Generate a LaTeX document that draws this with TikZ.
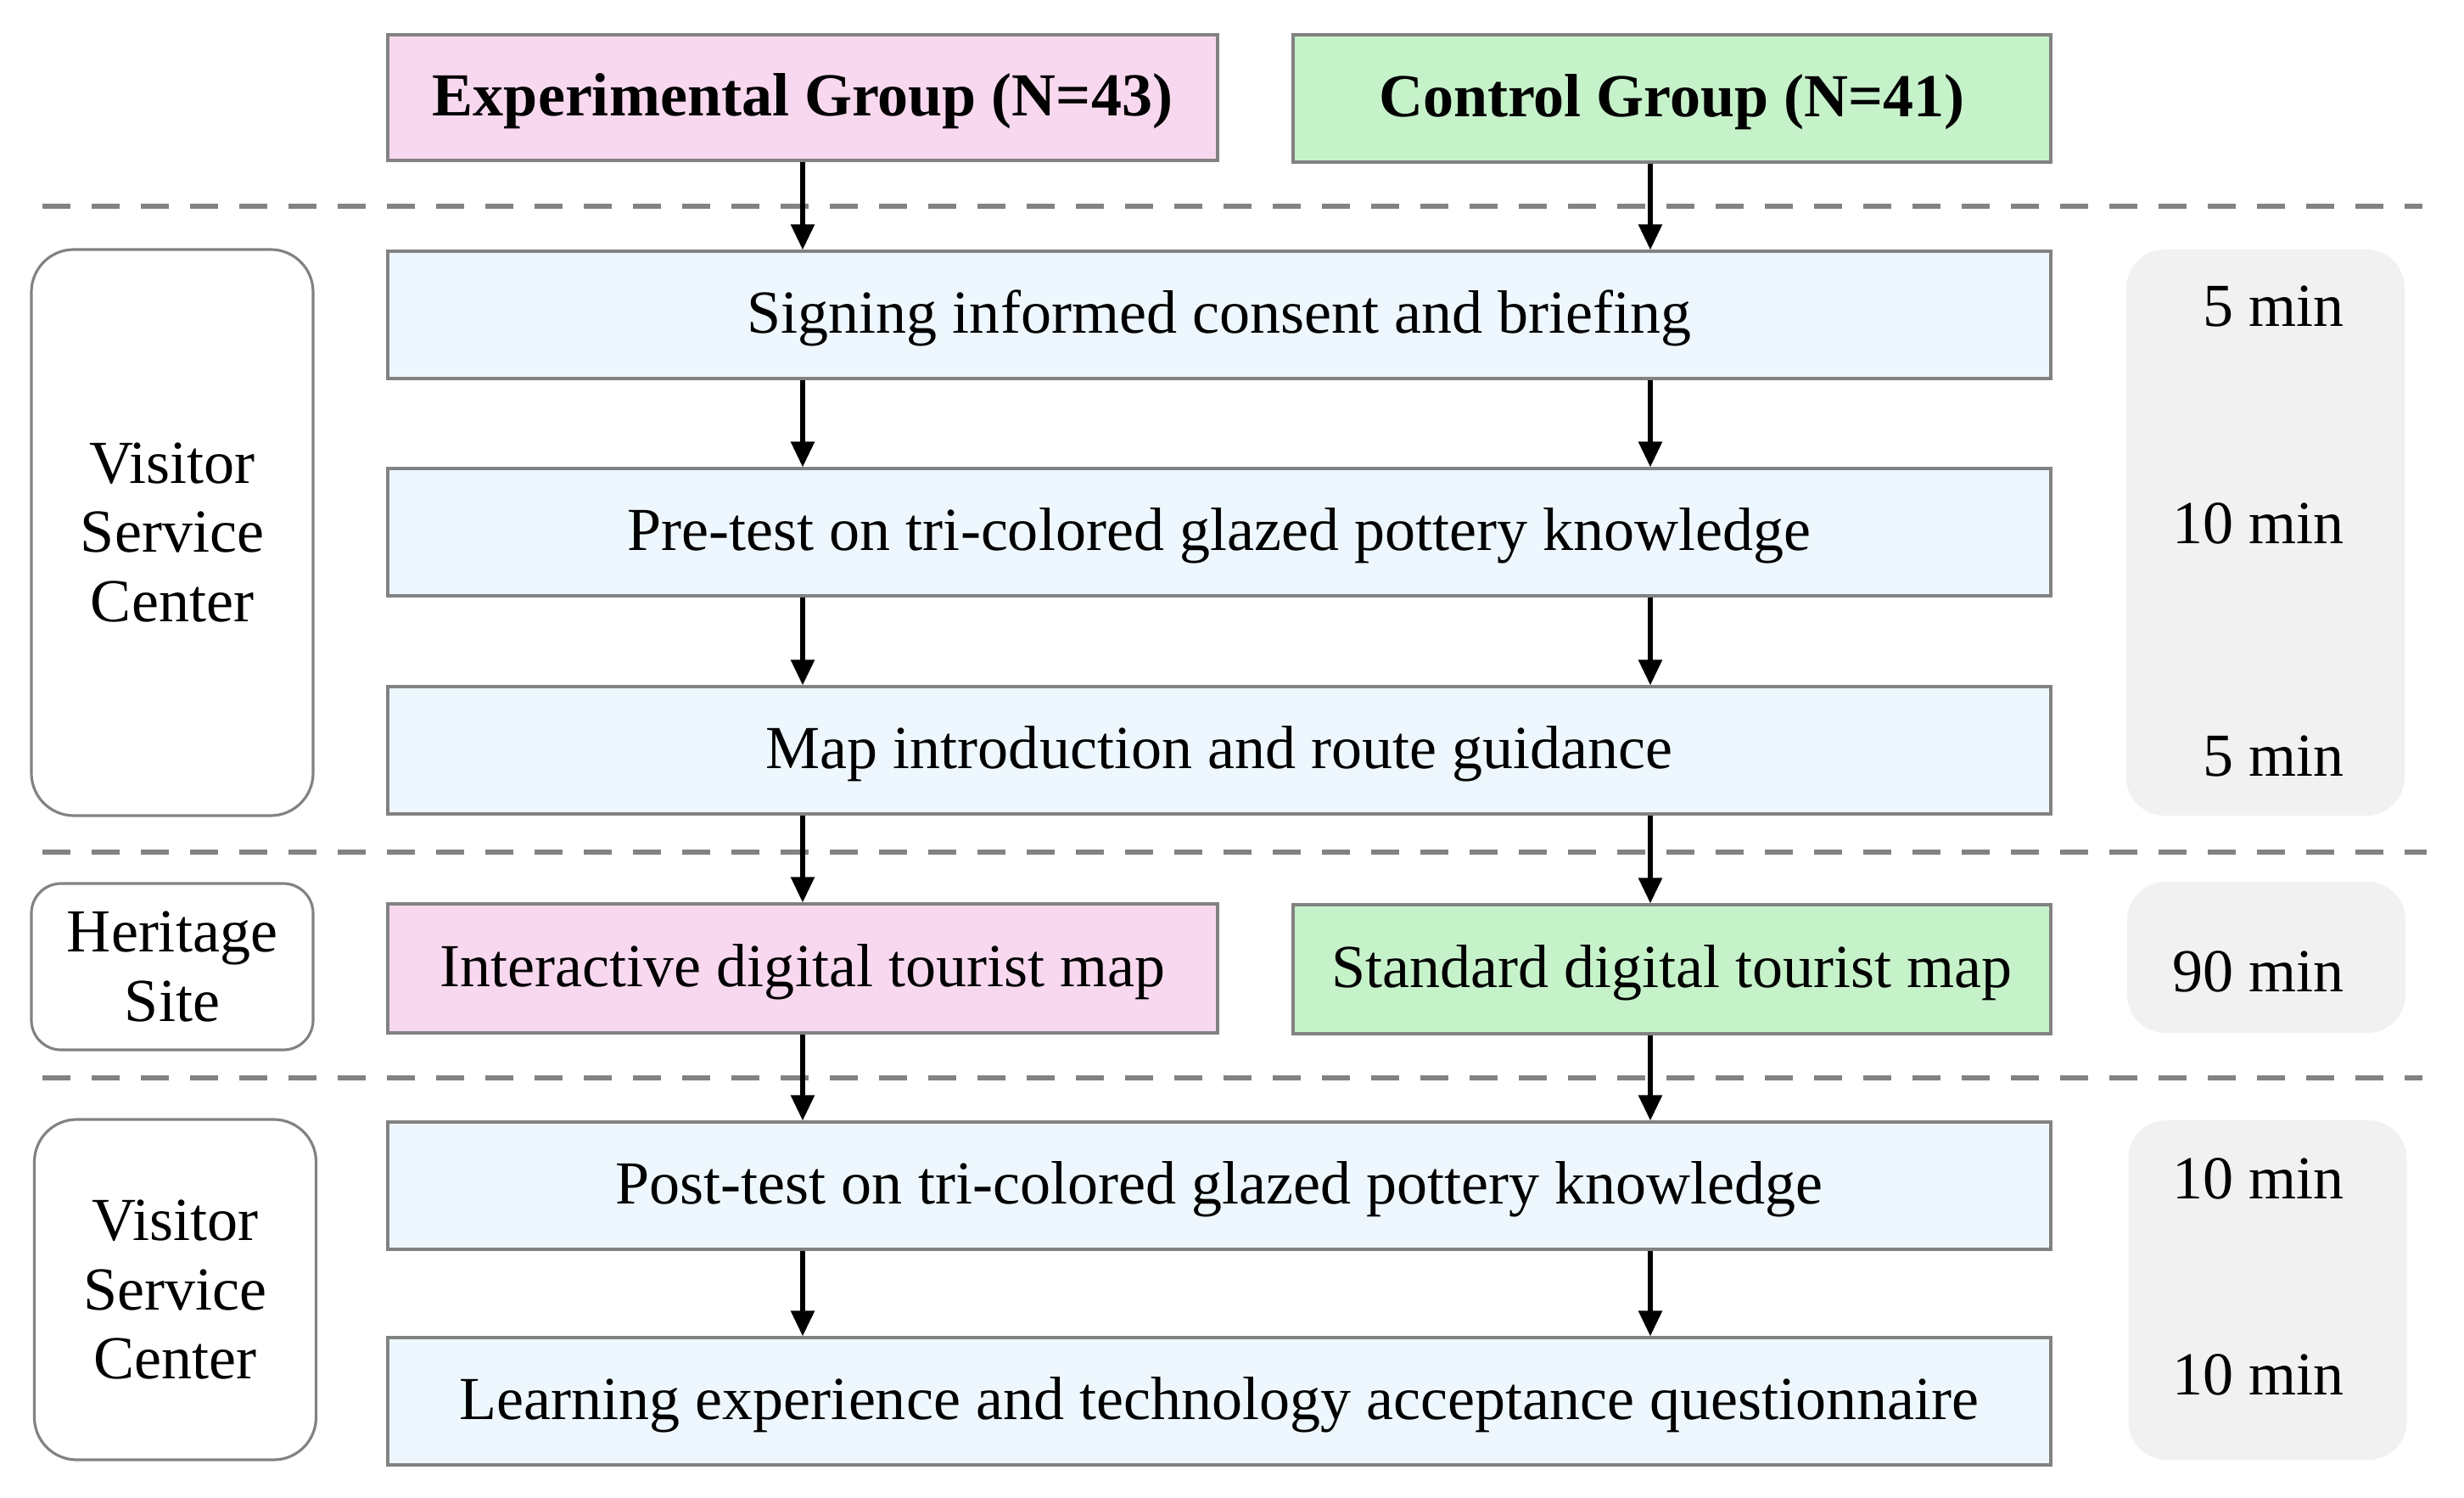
\documentclass[tikz,border=0pt]{standalone}
\usepackage{fontspec}
\setmainfont{Liberation Serif}
\usetikzlibrary{arrows.meta}
\definecolor{rose}{RGB}{248,216,238}
\definecolor{vert}{RGB}{198,242,202}
\definecolor{bleu}{RGB}{237,247,253}
\definecolor{gris}{RGB}{241,241,241}
\definecolor{trait}{RGB}{130,130,130}
\tikzset{
  boite/.style={draw=trait, line width=0.9pt, minimum height=1.5cm, inner sep=0pt,
    text height=15pt, text depth=3pt, font=\fontsize{20.5}{23.2}\selectfont},
  etape/.style={boite, fill=bleu, minimum width=19.6cm},
  lieu/.style={draw=trait, line width=0.9pt, rounded corners=0.5cm, minimum width=3.32cm,
    align=center, inner sep=0pt, font=\fontsize{20.5}{23.2}\selectfont},
  duree/.style={fill=gris, rounded corners=0.45cm, minimum width=3.28cm, inner sep=0pt},
  temps/.style={anchor=east, font=\fontsize{20.5}{23.2}\selectfont},
  fleche/.style={line width=1.6pt, -{Triangle[length=3mm,width=2.7mm]}},
  separ/.style={trait, line width=1.6pt, dash pattern=on 0.33cm off 0.25cm}
}
\begin{document}
\begin{tikzpicture}
  \useasboundingbox (0,0) rectangle (29.04,-17.65);
  % separations
  \draw[separ] (0.5,-2.43) -- (28.55,-2.43);
  \draw[separ] (0.5,-10.04) -- (28.6,-10.04);
  \draw[separ] (0.5,-12.70) -- (28.55,-12.70);
  % groupes
  \node[boite, fill=rose, minimum width=9.78cm, minimum height=1.48cm] (expg) at (9.46,-1.15)
    {\textbf{Experimental Group (N=43)}};
  \node[boite, fill=vert, minimum width=8.93cm] (ctrl) at (19.705,-1.16)
    {\textbf{Control Group (N=41)}};
  % etapes
  \node[etape] (sign) at (14.37,-3.71) {Signing informed consent and briefing};
  \node[etape] (pre) at (14.37,-6.27) {Pre-test on tri-colored glazed pottery knowledge};
  \node[etape] (mapi) at (14.37,-8.84) {Map introduction and route guidance};
  \node[boite, fill=rose, minimum width=9.78cm, minimum height=1.52cm] (inter) at (9.46,-11.41)
    {Interactive digital tourist map};
  \node[boite, fill=vert, minimum width=8.93cm, minimum height=1.52cm] (stand) at (19.705,-11.42)
    {Standard digital tourist map};
  \node[etape] (post) at (14.37,-13.97) {Post-test on tri-colored glazed pottery knowledge};
  \node[etape] (learn) at (14.37,-16.51) {Learning experience and technology acceptance questionnaire};
  % lieux
  \node[lieu, minimum height=6.67cm] (vsc1) at (2.03,-6.275) {Visitor\\Service\\Center};
  \node[lieu, minimum height=1.96cm, rounded corners=0.35cm] (site) at (2.03,-11.39) {Heritage\\Site};
  \node[lieu, minimum height=4.01cm] (vsc2) at (2.065,-15.195) {Visitor\\Service\\Center};
  % durees
  \node[duree, minimum height=6.67cm] (d1) at (26.7,-6.275) {};
  \node[duree, minimum height=1.78cm] (d2) at (26.71,-11.28) {};
  \node[duree, minimum height=4.0cm] (d3) at (26.725,-15.2) {};
  \node[temps] (t1) at (27.75,-3.61) {5 min};
  \node[temps] (t2) at (27.75,-6.17) {10 min};
  \node[temps] (t3) at (27.75,-8.91) {5 min};
  \node[temps] (t4) at (27.75,-11.45) {90 min};
  \node[temps] (t5) at (27.75,-13.89) {10 min};
  \node[temps] (t6) at (27.75,-16.20) {10 min};
  % fleches
  \coordinate (cg) at (9.46,0);
  \coordinate (cd) at (19.45,0);
  \draw[fleche] (expg.south) -- (sign.north -| cg);
  \draw[fleche] (ctrl.south -| cd) -- (sign.north -| cd);
  \foreach \a/\b in {sign/pre, pre/mapi, post/learn} {
    \draw[fleche] (\a.south -| cg) -- (\b.north -| cg);
    \draw[fleche] (\a.south -| cd) -- (\b.north -| cd);
  }
  \draw[fleche] (mapi.south -| cg) -- (inter.north);
  \draw[fleche] (mapi.south -| cd) -- (stand.north -| cd);
  \draw[fleche] (inter.south) -- (post.north -| cg);
  \draw[fleche] (stand.south -| cd) -- (post.north -| cd);
\end{tikzpicture}
\end{document}
